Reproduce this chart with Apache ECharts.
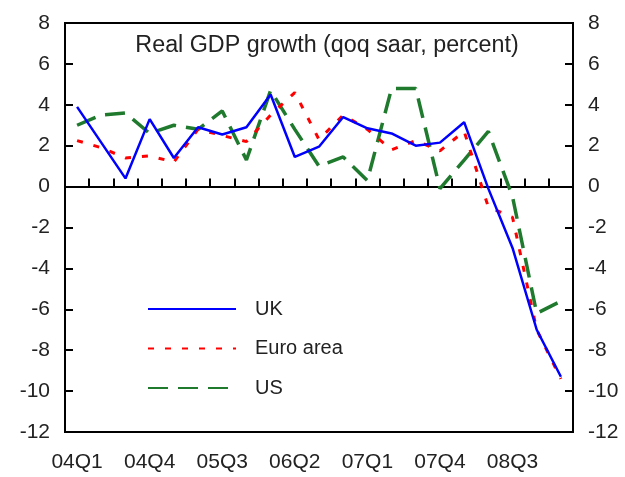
<!DOCTYPE html>
<html>
<head>
<meta charset="utf-8">
<script src="https://cdn.jsdelivr.net/npm/echarts@6/dist/echarts.min.js"></script>
<style>
html,body{margin:0;padding:0;background:#fff;}
#c{width:625px;height:477px;}
</style>
</head>
<body>
<div id="c"></div>
<script>
const categories = ['04Q1','04Q2','04Q3','04Q4','05Q1','05Q2','05Q3','05Q4','06Q1','06Q2','06Q3','06Q4','07Q1','07Q2','07Q3','07Q4','08Q1','08Q2','08Q3','08Q4','09Q1'];
const ukValues   = [3.9, 2.15, 0.4, 3.3, 1.4, 2.9, 2.55, 2.9, 4.5, 1.45, 1.95, 3.4, 2.85, 2.6, 2.0, 2.15, 3.15, -0.1, -3.0, -7.0, -9.3];
const euroValues = [2.25, 1.9, 1.4, 1.5, 1.2, 2.8, 2.5, 2.2, 3.5, 4.6, 2.3, 3.5, 2.8, 1.8, 2.25, 1.75, 2.7, -1.0, -1.5, -7.0, -9.4];
const usValues   = [3.0, 3.5, 3.6, 2.6, 3.0, 2.8, 3.7, 1.3, 4.7, 2.8, 1.0, 1.45, 0.3, 4.8, 4.8, -0.1, 1.3, 2.7, -0.5, -6.2, -5.6];
const seriesNames = ['UK', 'Euro area', 'US'];
const titleText = 'Real GDP growth (qoq saar, percent)';
const yMin = -12, yMax = 8, yStep = 2;

const font = 'Liberation Sans, Arial, sans-serif';
const txt = '#222';
const chart = echarts.init(document.getElementById('c'), null, {renderer: 'canvas'});

const yAxisCommon = {
  type: 'value', min: yMin, max: yMax, interval: yStep,
  axisLine: {show: true, lineStyle: {color: '#000', width: 2}},
  axisTick: {show: true, inside: true, length: 8, lineStyle: {color: '#000', width: 2}},
  splitLine: {show: false},
  axisLabel: {fontSize: 21, color: txt, fontFamily: font, margin: 15}
};

chart.setOption({
  backgroundColor: '#fff',
  animation: false,
  title: {
    text: titleText, left: 322, top: 29, textAlign: 'center',
    textStyle: {fontSize: 23.3, fontWeight: 'normal', color: txt, fontFamily: font}
  },
  legend: {
    data: seriesNames, orient: 'vertical', left: 147, top: 299, padding: 0,
    itemWidth: 88, itemHeight: 14, itemGap: 19.5,
    itemStyle: {opacity: 0},
    textStyle: {fontSize: 20, color: txt, fontFamily: font, lineHeight: 20, padding: [0, 0, 0, 14]},
    selectedMode: false
  },
  grid: {left: 65, top: 23, width: 508, height: 409, show: true, borderColor: '#000', borderWidth: 2, backgroundColor: 'transparent'},
  xAxis: [
    {
      type: 'category', data: categories, boundaryGap: true,
      axisLine: {show: true, onZero: true, lineStyle: {color: '#000', width: 2}},
      axisTick: {show: true, inside: true, length: 8, interval: 0, lineStyle: {color: '#000', width: 2}},
      axisLabel: {show: false}
    },
    {
      type: 'category', data: categories, boundaryGap: true, position: 'bottom',
      axisLine: {show: false, onZero: false},
      axisTick: {show: false},
      axisLabel: {show: true, interval: 2, fontSize: 21, color: txt, fontFamily: font, margin: 20}
    }
  ],
  yAxis: [
    Object.assign({}, yAxisCommon, {position: 'left'}),
    Object.assign({}, yAxisCommon, {position: 'right'})
  ],
  series: [
    {name: seriesNames[0], type: 'line', data: ukValues, symbol: 'none', z: 5,
     lineStyle: {color: '#0000ff', width: 2.5, type: 'solid'}, itemStyle: {color: '#0000ff'}},
    {name: seriesNames[1], type: 'line', data: euroValues, symbol: 'none', z: 4,
     lineStyle: {color: '#ff0000', width: 3, type: [6, 11]}, itemStyle: {color: '#ff0000'}},
    {name: seriesNames[2], type: 'line', data: usValues, symbol: 'none', z: 3,
     lineStyle: {color: '#1f7a2e', width: 3.5, type: [20, 10]}, itemStyle: {color: '#1f7a2e'}}
  ]
});
</script>
</body>
</html>
